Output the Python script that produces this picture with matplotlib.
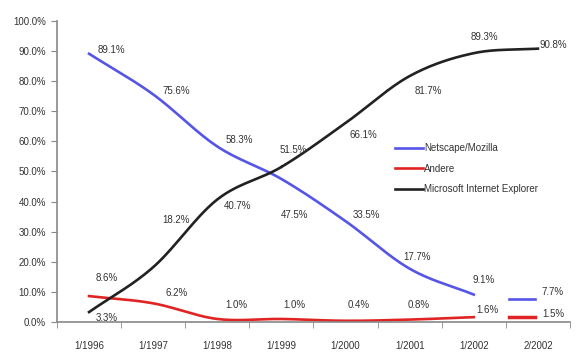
import numpy as np
import matplotlib.pyplot as plt

plt.rcParams['font.family'] = ['Liberation Sans', 'DejaVu Sans']

dates = ['1/1996', '1/1997', '1/1998', '1/1999', '1/2000', '1/2001', '1/2002', '2/2002']
netscape = [89.1, 75.6, 58.3, 47.5, 33.5, 17.7, 9.1, 7.7]
andere = [8.6, 6.2, 1.0, 1.0, 0.4, 0.8, 1.6, 1.5]
ie = [3.3, 18.2, 40.7, 51.5, 66.1, 81.7, 89.3, 90.8]

# label offsets in pixels (dx, dy)
off_ns = [(22, 4), (23, 3), (22, 6), (13, -36), (21, 6), (7, 12), (10, 15), (15, 7)]
off_ie = [(18, -6), (23, 47), (20, -7), (12, 17), (18, -12), (19, -15), (11, 16), (15, 4)]
off_an = [(18, 18), (23, 10), (19, 14), (13, 14), (13, 16), (9, 15), (14, 7), (15, 3)]


def smooth(y, n=30):
    # catmull-rom like excel "smoothed line"
    y = np.asarray(y, dtype=float)
    p = np.concatenate([[2 * y[0] - y[1]], y, [2 * y[-1] - y[-2]]])
    xs, ys = [], []
    for i in range(len(y) - 1):
        t = np.linspace(0, 1, n)
        p0, p1, p2, p3 = p[i], p[i + 1], p[i + 2], p[i + 3]
        v = 0.5 * (2 * p1 + (-p0 + p2) * t + (2 * p0 - 5 * p1 + 4 * p2 - p3) * t ** 2
                   + (-p0 + 3 * p1 - 3 * p2 + p3) * t ** 3)
        xs.append(i + t)
        ys.append(v)
    return np.concatenate(xs), np.concatenate(ys)


fig = plt.figure(figsize=(5.78, 3.55), dpi=100)
ax = fig.add_axes([0.0986, 0.093, 0.8875, 0.848])

c_ns = '#5555e8'
c_an = '#e02424'
c_ie = '#222222'

x, y = smooth(netscape[:7])
ax.plot(x, np.array(y) / 100, color=c_ns, lw=1.9, label='Netscape/Mozilla')
ax.plot([6.55, 6.95], [netscape[7] / 100] * 2, color=c_ns, lw=1.9)

x, y = smooth(andere[:7])
ax.plot(x, np.array(y) / 100, color=c_an, lw=1.9, label='Andere')
ax.plot([6.55, 6.95], [andere[7] / 100] * 2, color=c_an, lw=2.5)

x, y = smooth(ie)
ax.plot(x, np.array(y) / 100, color=c_ie, lw=1.9, label='Microsoft Internet Explorer')

for vals, offs in [(netscape, off_ns), (ie, off_ie), (andere, off_an)]:
    for i, v in enumerate(vals):
        ax.annotate(f'{v:.1f}%', (i, v / 100), xytext=offs[i], textcoords='offset pixels',
                    ha='center', va='center', fontsize=7, color='#333333')

ax.set_xlim(-0.5, 7.5)
ax.set_ylim(0, 1.0)
ax.set_yticks(np.arange(0, 1.01, 0.1))
ax.set_yticklabels([f'{v:.1f}%' for v in np.arange(0, 101, 10)])
ax.set_xticks(range(len(dates)))
ax.set_xticklabels(dates)
ax.set_xticks(np.arange(-0.5, 7.6, 1), minor=True)
ax.tick_params(axis='x', which='major', length=0, pad=14)
ax.tick_params(axis='x', which='minor', length=4, color='#888888')
ax.tick_params(axis='y', length=4, color='#888888', pad=4)
ax.tick_params(labelsize=7, labelcolor='#333333')
for s in ['top', 'right']:
    ax.spines[s].set_visible(False)
for s in ['left', 'bottom']:
    ax.spines[s].set_color('#888888')
    ax.spines[s].set_linewidth(1.2)

fig.legend(loc='upper left', bbox_to_anchor=(0.675, 0.611), frameon=False, fontsize=7,
           handlelength=2.9, handletextpad=0.1, labelspacing=1.1, borderpad=0,
           labelcolor='#333333')

fig.savefig('out.png', dpi=100)
